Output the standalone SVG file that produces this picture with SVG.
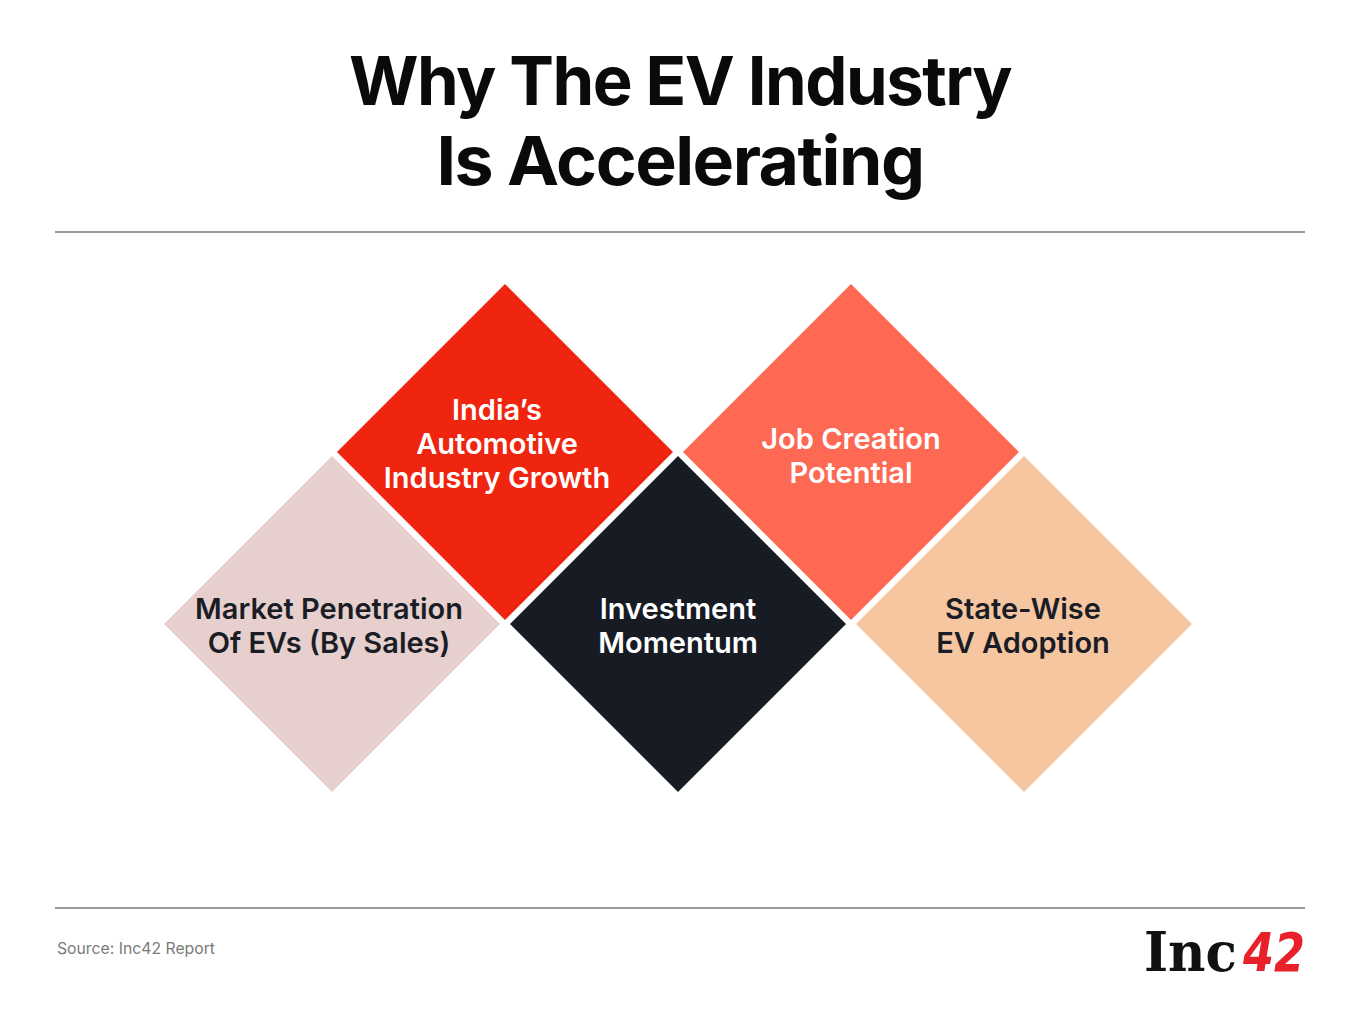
<svg xmlns="http://www.w3.org/2000/svg" width="1360" height="1020" viewBox="0 0 1360 1020">
<defs>
<style>
.title{font-family:Inter,"Noto Sans",sans-serif;font-weight:700;font-size:68px;fill:#0a0a0a;letter-spacing:-1.5px;text-anchor:middle}
.lbl{font-family:Inter,"Noto Sans",sans-serif;font-weight:600;font-size:29px;text-anchor:middle}
.w{fill:#ffffff}
.d{fill:#1a1d26}
.rule{stroke:#9a9a9a;stroke-width:2}
</style>
<polygon id="dm" points="0,-168 168,0 0,168 -168,0"/>
</defs>
<rect width="1360" height="1020" fill="#ffffff"/>
<g id="title">
<text class="title" x="680" y="105" textLength="662" lengthAdjust="spacingAndGlyphs">Why The EV Industry</text>
<text class="title" x="680" y="185" textLength="487" lengthAdjust="spacingAndGlyphs">Is Accelerating</text>
</g>
<line class="rule" x1="55" y1="232" x2="1305" y2="232"/>
<line class="rule" x1="55" y1="908" x2="1305" y2="908"/>
<g id="connectors"/>
<g id="node-market">
<use href="#dm" x="332" y="624" fill="#e6cfcc"/>
<text class="lbl d" x="329" y="619">Market Penetration</text>
<text class="lbl d" x="329" y="653">Of EVs (By Sales)</text>
</g>
<g id="node-india">
<use href="#dm" x="505" y="452" fill="#f0250f"/>
<text class="lbl w" x="497" y="420">India’s</text>
<text class="lbl w" x="497" y="454">Automotive</text>
<text class="lbl w" x="497" y="488">Industry Growth</text>
</g>
<g id="node-investment">
<use href="#dm" x="678" y="624" fill="#171b24"/>
<text class="lbl w" x="678" y="619">Investment</text>
<text class="lbl w" x="678" y="653">Momentum</text>
</g>
<g id="node-job">
<use href="#dm" x="851" y="452" fill="#fe6954"/>
<text class="lbl w" x="851" y="449">Job Creation</text>
<text class="lbl w" x="851" y="483">Potential</text>
</g>
<g id="node-state">
<use href="#dm" x="1024" y="624" fill="#f5c6a0"/>
<text class="lbl d" x="1023" y="619">State-Wise</text>
<text class="lbl d" x="1023" y="653">EV Adoption</text>
</g>
<g id="footer">
<text x="57" y="954" font-family="Inter,'Noto Sans',sans-serif" font-size="16" fill="#7a7a7a" textLength="158" lengthAdjust="spacingAndGlyphs">Source: Inc42 Report</text>
<text x="1144" y="971" font-family="'DejaVu Serif',serif" font-weight="700" font-size="54" fill="#111111" textLength="93" lengthAdjust="spacingAndGlyphs">Inc</text>
<text x="1243" y="971" font-family="'DejaVu Sans',sans-serif" font-weight="700" font-style="italic" font-size="54" fill="#e8202a" textLength="62" lengthAdjust="spacingAndGlyphs">42</text>
</g>
</svg>
